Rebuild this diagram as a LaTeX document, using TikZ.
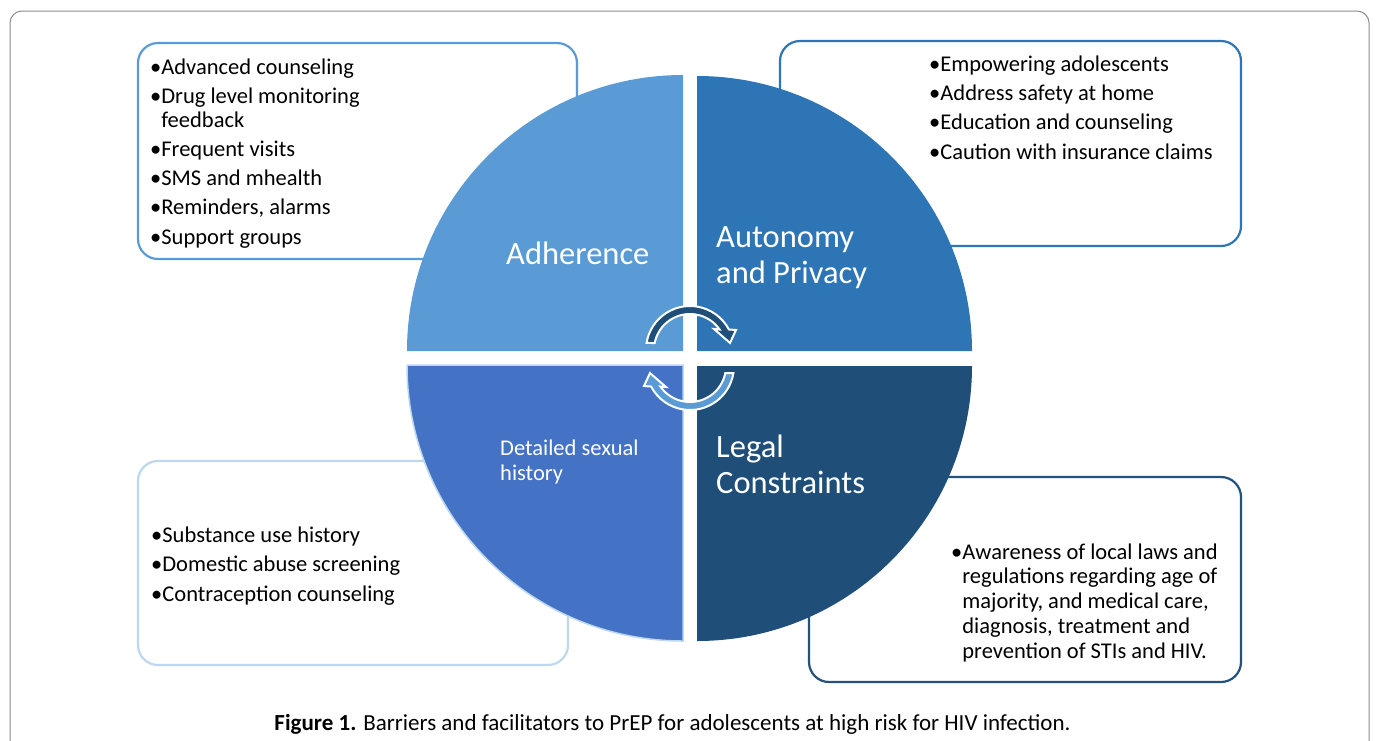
\documentclass[tikz,border=0pt]{standalone}
\usepackage{fontspec}
\setmainfont{Carlito}
\definecolor{cA}{HTML}{5B9BD5}
\definecolor{cB}{HTML}{2E75B6}
\definecolor{cC}{HTML}{4472C4}
\definecolor{cD}{HTML}{1F4E79}
\definecolor{cLight}{HTML}{BDD7EE}
\definecolor{cBoxD}{HTML}{24517E}
\definecolor{frameclr}{HTML}{8C8C8C}
\tikzset{
  box/.style={rounded corners=20pt, line width=2.2pt, fill=white},
  itemtext/.style={anchor=base west, inner sep=0pt, align=left, font=\fontsize{22.5}{23.7}\selectfont},
  qlabel/.style={anchor=base west, inner sep=0pt, align=left, text=white, font=\fontsize{32.5}{36}\selectfont},
  arrowshape/.style={line width=2pt, draw=white, line join=miter},
}
\begin{document}
\begin{tikzpicture}[x=1pt,y=-1pt]
\path[use as bounding box] (0,0) rectangle (1376,740);
\clip (0,0) rectangle (1376,740);
% outer frame
\draw[frameclr, line width=1pt, rounded corners=12pt] (10,11) rectangle (1369,800);
% boxes
\draw[box, draw=cA] (138,43) rectangle (577,259);
\draw[box, draw=cB] (780,41) rectangle (1241,246);
\draw[box, draw=cLight] (138,461) rectangle (568,665);
\draw[box, draw=cBoxD] (809,477) rectangle (1241,682);
% quadrants
\fill[cA] (683,351) -- ++(180:276) arc[start angle=180, end angle=270, radius=276] -- cycle;
\fill[cB] (697,351) -- ++(270:275) arc[start angle=270, end angle=360, radius=275] -- cycle;
\filldraw[fill=cC, draw=cLight, line width=1.5pt] (683,365) -- ++(90:276) arc[start angle=90, end angle=180, radius=276] -- cycle;
\fill[cD] (697,366) -- ++(0:275) arc[start angle=0, end angle=90, radius=275] -- cycle;
% cycle arrows
\begin{scope}[shift={(690,350)}]
\filldraw[fill=cD, arrowshape] (189.2:44) arc[start angle=189.2, end angle=332.2, radius=44] -- (336.5:50.2) -- (350:40.6) -- (318.8:31.9) -- (325.3:36) arc[start angle=325.3, end angle=191.2, radius=36] -- cycle;
\end{scope}
\begin{scope}[shift={(690,366)}, rotate=180]
\filldraw[fill=cA, arrowshape] (189.2:44) arc[start angle=189.2, end angle=332.2, radius=44] -- (336.5:50.2) -- (350:40.6) -- (318.8:31.9) -- (325.3:36) arc[start angle=325.3, end angle=191.2, radius=36] -- cycle;
\end{scope}
% quadrant labels (anchored at the last line's baseline)
\node[qlabel] (adh) at (506,264) {Adherence};
\node[qlabel] (aut) at (716,283) {Autonomy\\and Privacy};
\node[qlabel] (leg) at (716,493) {Legal\\Constraints};
\node[itemtext, text=white, font=\fontsize{22.5}{25}\selectfont] (det) at (500,480) {Detailed sexual\\history};
% box texts (anchored at the last line's baseline)
\node[itemtext] (tl) at (150,244) {\textbullet Advanced counseling\\[5.5pt]
\textbullet Drug level monitoring\\\hphantom{\textbullet}feedback\\[5.5pt]
\textbullet Frequent visits\\[5.5pt]
\textbullet SMS and mhealth\\[5.5pt]
\textbullet Reminders, alarms\\[5.5pt]
\textbullet Support groups};
\node[itemtext] (tr) at (929,159) {\textbullet Empowering adolescents\\[5.5pt]
\textbullet Address safety at home\\[5.5pt]
\textbullet Education and counseling\\[5.5pt]
\textbullet Caution with insurance claims};
\node[itemtext] (bl) at (151,601) {\textbullet Substance use history\\[5.5pt]
\textbullet Domestic abuse screening\\[5.5pt]
\textbullet Contraception counseling};
\node[itemtext, font=\fontsize{22.5}{24.7}\selectfont] (br) at (951,658) {\textbullet Awareness of local laws and\\
\hphantom{\textbullet}regulations regarding age of\\
\hphantom{\textbullet}majority, and medical care,\\
\hphantom{\textbullet}diagnosis, treatment and\\
\hphantom{\textbullet}prevention of STIs and HIV.};
% caption
\node[anchor=base, inner sep=0pt, font=\fontsize{23}{26}\selectfont] (cap) at (672.5,730) {\textbf{Figure 1.} Barriers and facilitators to PrEP for adolescents at high risk for HIV infection.};
\end{tikzpicture}
\end{document}
